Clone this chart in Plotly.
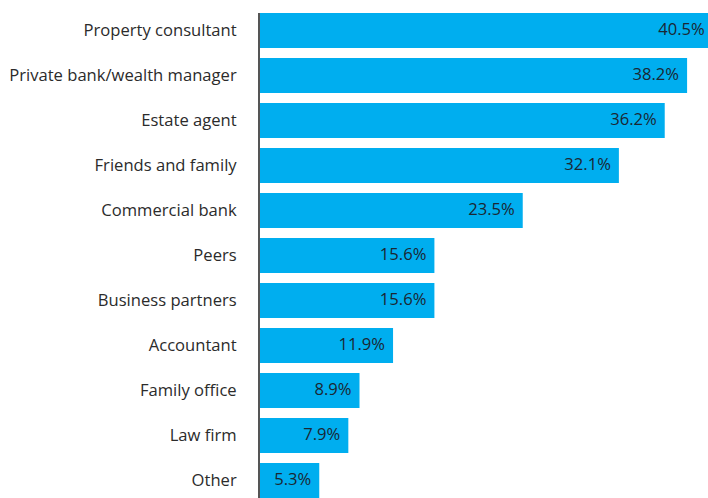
import plotly.graph_objects as go

categories = [
    "Property consultant",
    "Private bank/wealth manager",
    "Estate agent",
    "Friends and family",
    "Commercial bank",
    "Peers",
    "Business partners",
    "Accountant",
    "Family office",
    "Law firm",
    "Other",
]
shares = [40.5, 38.2, 36.2, 32.1, 23.5, 15.6, 15.6, 11.9, 8.9, 7.9, 5.3]

BAR_COLOR = "#00AEEF"
FONT = "Open Sans"
FONT_SIZE = 16.6

X_MAX = 40.07          # visible extent of the value axis
PLOT_W = 708 - 260     # pixel width of the plotting area
LABEL_INSET_PX = 8     # gap between a value label and the end of its bar
label_offset = LABEL_INSET_PX * X_MAX / PLOT_W

fig = go.Figure()

fig.add_trace(
    go.Bar(
        x=shares,
        y=categories,
        orientation="h",
        marker=dict(color=BAR_COLOR, line=dict(width=0)),
        hoverinfo="skip",
    )
)

# Value labels live on an overlaid copy of the value axis, shifted by a few
# pixels, so each one ends just inside its bar (even the bar that runs past
# the right edge of the chart).
fig.add_trace(
    go.Scatter(
        x=shares,
        y=categories,
        xaxis="x2",
        yaxis="y",
        mode="text",
        text=[f"{v}%" for v in shares],
        textposition="middle left",
        textfont=dict(family=FONT, size=FONT_SIZE, color="#1b2733"),
        cliponaxis=False,
        hoverinfo="skip",
    )
)

fig.update_layout(
    width=708,
    height=498,
    margin=dict(l=260, r=0, t=13, b=0),
    paper_bgcolor="white",
    plot_bgcolor="white",
    bargap=0.222,
    showlegend=False,
    font=dict(family=FONT, size=FONT_SIZE, color="#2b2b2b"),
    xaxis=dict(
        range=[0, X_MAX],
        showgrid=False,
        zeroline=False,
        showticklabels=False,
        showline=False,
        ticks="",
    ),
    xaxis2=dict(
        overlaying="x",
        anchor="y",
        range=[label_offset, X_MAX + label_offset],
        visible=False,
    ),
    yaxis=dict(
        type="category",
        categoryorder="array",
        categoryarray=categories,
        range=[10.389, -0.389],
        showgrid=False,
        zeroline=False,
        showline=True,
        linecolor="#555555",
        linewidth=2,
        ticks="",
        ticklabelstandoff=18,
        tickfont=dict(family=FONT, size=FONT_SIZE, color="#2b2b2b"),
    ),
)

fig.write_html("out.html", config={"displayModeBar": False})
